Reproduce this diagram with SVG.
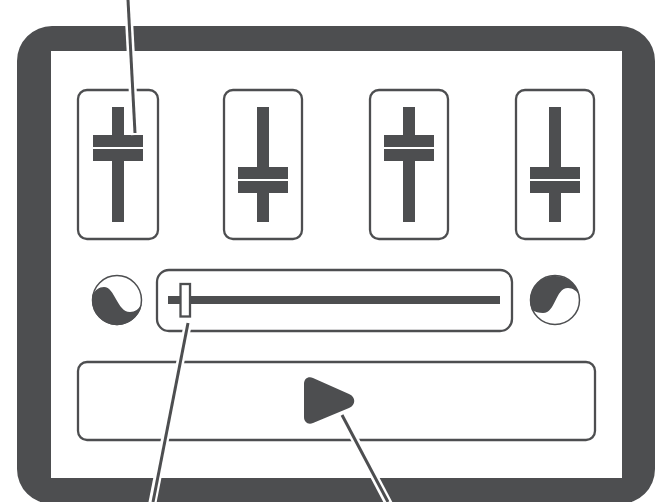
<svg xmlns="http://www.w3.org/2000/svg" width="656" height="502" viewBox="0 0 656 502">
<defs>
<style>
.d{fill:#4d4e50}
.gap{fill:#fff}
.box{fill:#fff;stroke:#4d4e50;stroke-width:2.3}
.ring{fill:#fff;stroke:#4d4e50;stroke-width:1.5}
.halo{fill:none;stroke:#fff;stroke-width:8}
.lead{fill:none;stroke:#4d4e50;stroke-width:3}
</style>
</defs>
<rect width="656" height="502" fill="#fff"/>
<g id="frame"><path class="d" fill-rule="evenodd" d="M52 26H620A35 35 0 0 1 655 61V469A35 35 0 0 1 620 504H52A35 35 0 0 1 17 469V61A35 35 0 0 1 52 26ZM51 51V478H622V51Z"/></g>
<g id="fader1"><rect class="box" x="78" y="90" width="80" height="149" rx="9"/><rect class="d" x="112" y="107" width="12" height="115"/><rect class="d" x="93" y="135" width="50" height="12"/><rect class="gap" x="93" y="147" width="50" height="2"/><rect class="d" x="93" y="149" width="50" height="12"/></g>
<g id="fader2"><rect class="box" x="224" y="90" width="78" height="149" rx="9"/><rect class="d" x="257" y="107" width="12" height="115"/><rect class="d" x="238" y="167" width="50" height="12"/><rect class="gap" x="238" y="179" width="50" height="2"/><rect class="d" x="238" y="181" width="50" height="12"/></g>
<g id="fader3"><rect class="box" x="370" y="90" width="78" height="149" rx="9"/><rect class="d" x="403" y="107" width="12" height="115"/><rect class="d" x="384" y="135" width="50" height="12"/><rect class="gap" x="384" y="147" width="50" height="2"/><rect class="d" x="384" y="149" width="50" height="12"/></g>
<g id="fader4"><rect class="box" x="516" y="90" width="78" height="149" rx="9"/><rect class="d" x="549" y="107" width="12" height="115"/><rect class="d" x="530" y="167" width="50" height="12"/><rect class="gap" x="530" y="179" width="50" height="2"/><rect class="d" x="530" y="181" width="50" height="12"/></g>
<g id="knob-left"><circle class="ring" cx="117" cy="300" r="24.500"/><path class="d" d="M92.500 295C95 290 99 287 104 287C115 287 117 312 130 312C135 312 139 309 141.700 304A25 25 0 0 1 92 300Q92 297 92.500 295Z"/></g>
<g id="knob-right"><circle class="ring" cx="555" cy="300" r="24.500"/><path class="d" d="M532 310C535 312 539 313 543 313C556 313 555 288 568 288C573 288 576 291 579 294A25 25 0 0 0 530 300Q530 305 532 310Z"/></g>
<g id="slider"><rect class="box" x="157" y="270" width="355" height="61" rx="12"/><rect class="d" x="168" y="296" width="332" height="8"/><rect class="box" x="180.500" y="284" width="9.500" height="32.500"/></g>
<g id="button"><rect class="box" x="78" y="362" width="517" height="78" rx="9"/><path class="d" d="M304 384C304 379 308 376 313 378L349 394C356 397 356 405 349 408L313 423C308 425 304 422 304 417Z"/></g>
<g id="connectors">
<path class="halo" d="M128 0L135 135"/>
<path class="lead" d="M128 0L135 133"/>
<path class="halo" d="M187 328L151 510"/>
<path class="lead" d="M188 323L153 502"/>
<path class="halo" d="M350 430L392 510"/>
<path class="lead" d="M342 415L388 502"/>
</g>
</svg>
